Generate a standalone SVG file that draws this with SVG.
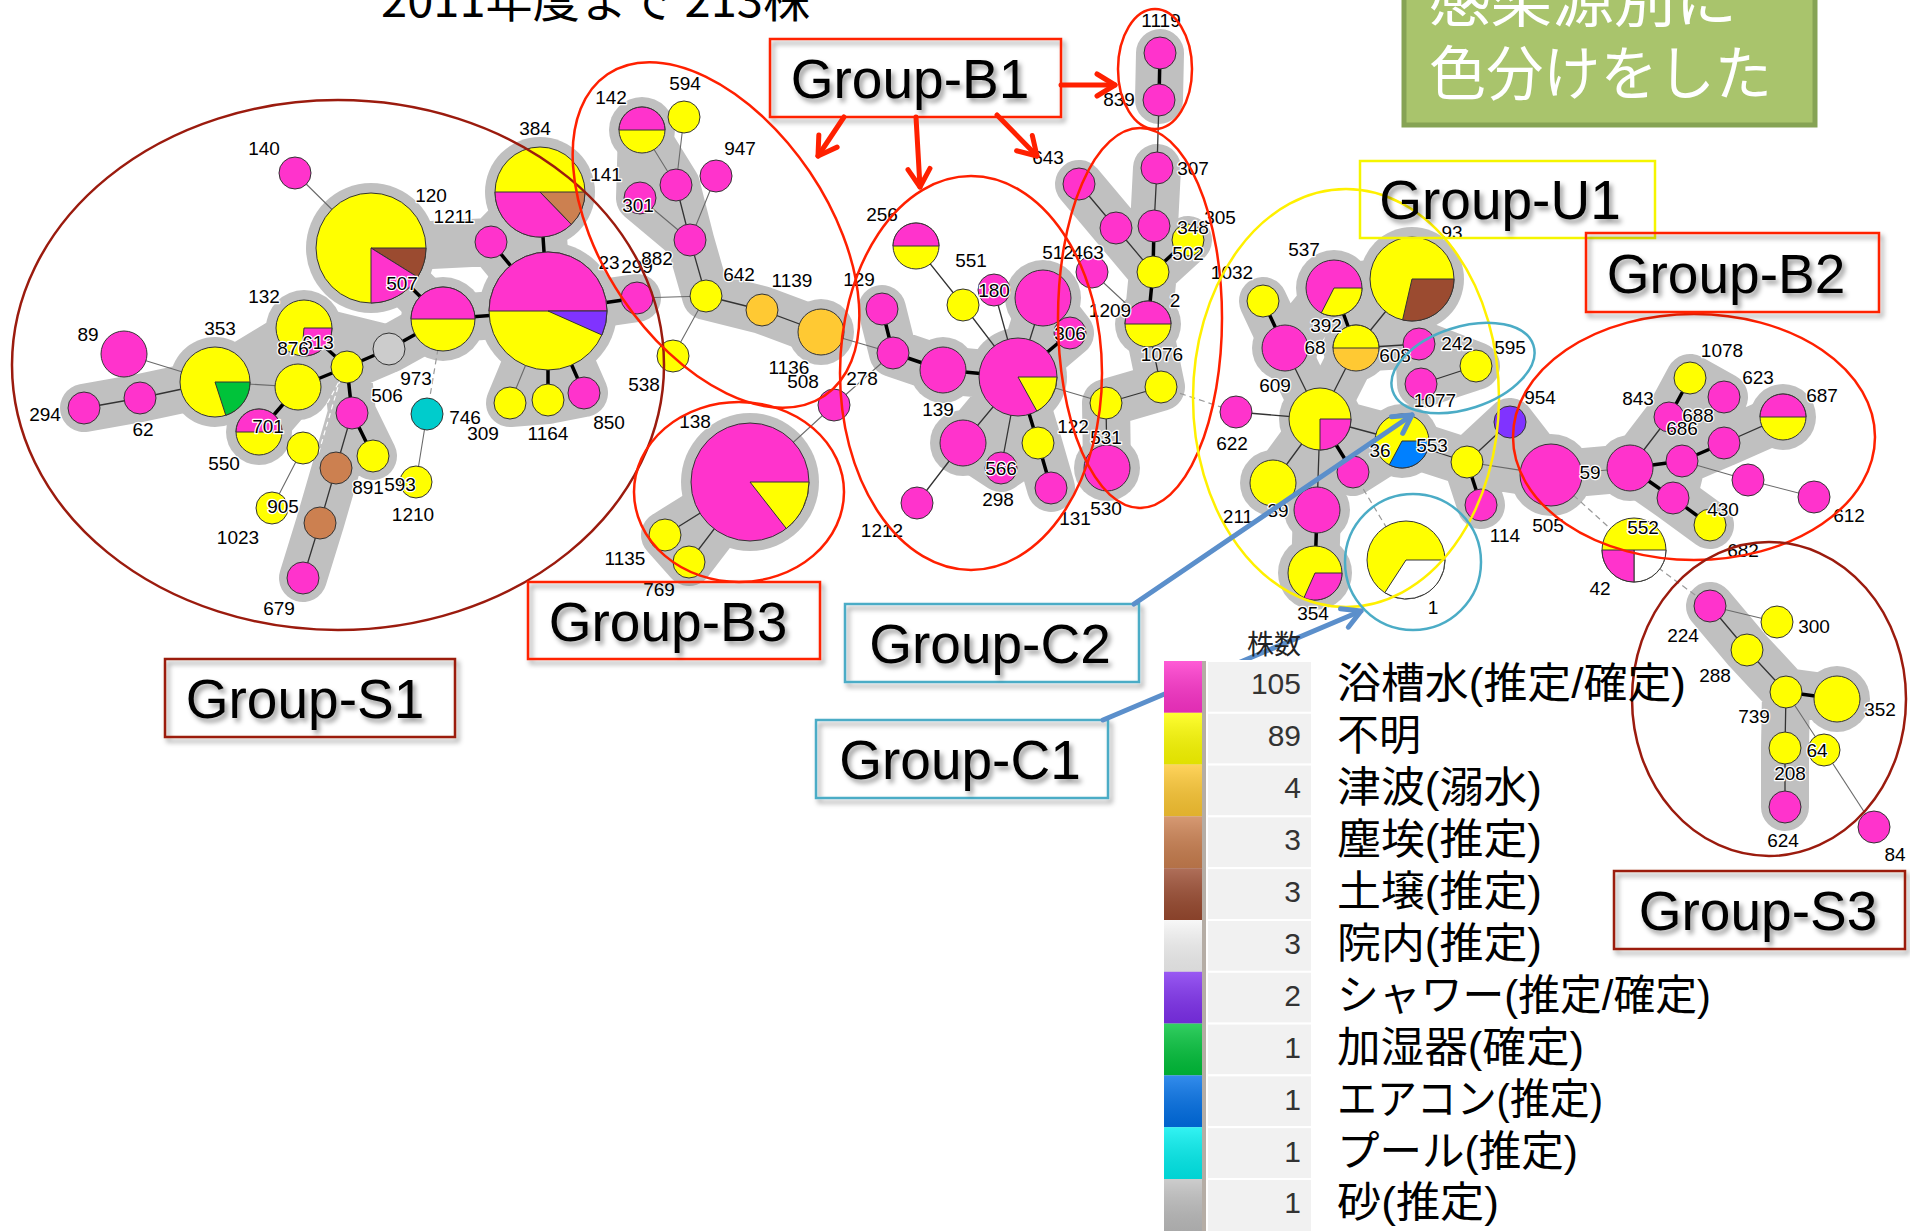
<svg xmlns="http://www.w3.org/2000/svg" width="1910" height="1231" viewBox="0 0 1910 1231">
<style>
.m{fill:#FF33CC}.y{fill:#FFFF00}.o{fill:#FFC933}.t{fill:#CC8050}.b{fill:#9B4B30}.w{fill:#FFFFFF}.p{fill:#8033FF}.gn{fill:#00C33A}.bl{fill:#0080FF}.c{fill:#00CCCC}.gy{fill:#CCCCCC}
#nodes circle,#nodes path{stroke:#333;stroke-width:1}
.et{stroke:#000;stroke-width:3.5}.ed{stroke:#333;stroke-width:1.3}.eg{stroke:#6a6a6a;stroke-width:1.1}.eq{stroke:#9a9a9a;stroke-width:1.2;stroke-dasharray:6 4}
.halo{fill:none;stroke:#C0C0C0;stroke-width:48;stroke-linecap:round;stroke-linejoin:round}
.hc{fill:#C0C0C0}
.lb{font-family:'Liberation Sans',Arial,sans-serif;font-size:19px;fill:#000;text-anchor:middle;stroke:#fff;stroke-width:2.5;paint-order:stroke;stroke-linejoin:round}
.ring{fill:none;stroke-width:2.5}
.box{fill:none;stroke-width:2.5}
.bt{font-family:'Liberation Sans',Arial,sans-serif;font-size:55px;fill:#000;text-anchor:middle}
.num{font-family:'Liberation Sans',Arial,sans-serif;font-size:30px;fill:#333;text-anchor:end}
.lt{font-family:'Liberation Sans','Noto Sans CJK JP',sans-serif;font-size:42px;fill:#000}
.cell{fill:#F1F1F1;stroke:#fff;stroke-width:2}
</style>
<defs>
<filter id="sh" x="-10%" y="-30%" width="130%" height="170%"><feDropShadow dx="3" dy="4" stdDeviation="2.5" flood-color="#000" flood-opacity="0.4"/></filter>
<linearGradient id="lg" x1="0" y1="0" x2="0" y2="1"><stop offset="0" stop-color="#fff" stop-opacity="0.2"/><stop offset="1" stop-color="#000" stop-opacity="0.12"/></linearGradient>
<marker id="ar" viewBox="0 0 28 28" refX="24" refY="14" markerWidth="28" markerHeight="28" markerUnits="userSpaceOnUse" orient="auto"><path d="M6,3 L24,14 L6,25" fill="none" stroke="#FF2000" stroke-width="5" stroke-linecap="round" stroke-linejoin="round"/></marker>
<marker id="ab" viewBox="0 0 28 28" refX="24" refY="14" markerWidth="28" markerHeight="28" markerUnits="userSpaceOnUse" orient="auto"><path d="M6,4 L24,14 L6,24" fill="none" stroke="#5B8FCB" stroke-width="5" stroke-linecap="round" stroke-linejoin="round"/></marker>
</defs>
<rect width="1910" height="1231" fill="#fff"/>

<text x="381" y="17" font-family="'Noto Sans CJK JP',sans-serif" font-size="46" textLength="429" lengthAdjust="spacingAndGlyphs">2011年度まで 213株</text>

<g id="title-box">
<rect x="1404" y="-20" width="411" height="145" fill="#A9C46C" stroke="#86A354" stroke-width="5"/>
<text x="1429" y="22" font-family="'Noto Sans CJK JP',sans-serif" font-size="59" fill="#fff" textLength="308" lengthAdjust="spacingAndGlyphs">感染源別に</text>
<text x="1429" y="95" font-family="'Noto Sans CJK JP',sans-serif" font-size="59" fill="#fff" textLength="343" lengthAdjust="spacingAndGlyphs">色分けをした</text>
</g>

<g id="halos">
<path class="halo" d="M84,408L140,398 M140,398L215,382 M215,382L298,387 M298,387L347,367 M347,367L389,349 M389,349L443,319 M443,319L548,311 M548,311L540,192 M548,311L491,242 M443,319L371,248 M371,248L491,242 M491,242L540,192 M304,328L347,367 M215,382L304,328 M304,328L389,349 M298,387L259,432 M347,367L352,413 M352,413L373,456 M352,413L336,468 M336,468L320,523 M320,523L303,578 M548,311L510,403 M548,311L548,400 M548,311L584,393 M548,311L637,298 M510,403L548,400 M548,400L584,393
M642,130L676,185 M676,185L690,240 M690,240L706,296 M706,296L762,310 M762,310L821,332 M640,198L690,240 M642,130L640,198
M750,482L665,535 M750,482L689,562 M665,535L689,562
M882,309L893,353 M893,353L943,370 M943,370L1018,377 M1018,377L1043,298 M1018,377L1070,333 M1043,298L1070,333 M1018,377L963,443 M1018,377L1001,468 M1018,377L1038,443 M1038,443L1051,488 M963,443L1001,468 M1001,468L1038,443
M1079,184L1116,228 M1116,228L1153,272 M1157,168L1154,226 M1154,226L1153,272 M1153,272L1188,240 M1153,272L1148,324 M1148,324L1161,387 M1161,387L1106,403 M1106,403L1107,468
M1160,53L1159,100
M1263,301L1285,348 M1285,348L1320,419 M1334,288L1356,348 M1356,348L1412,279 M1356,348L1320,419 M1320,419L1402,441 M1320,419L1273,483 M1320,419L1317,510 M1317,510L1315,573 M1320,419L1353,472 M1402,441L1467,462 M1467,462L1510,422 M1467,462L1481,505 M1402,441L1353,472 M1419,344L1421,384 M1421,384L1476,366 M1419,344L1476,366 M1285,348L1334,288 M1273,483L1317,510 M1412,279L1334,288 M1356,348L1419,344
M1467,462L1551,475 M1510,422L1551,475 M1551,475L1630,468 M1630,468L1669,417 M1669,417L1690,378 M1669,417L1724,397 M1690,378L1724,397 M1630,468L1682,461 M1682,461L1724,443 M1724,443L1783,417 M1630,468L1673,498 M1673,498L1710,525 M1682,461L1673,498
M1710,606L1747,650 M1747,650L1786,692 M1786,692L1837,699 M1786,692L1785,748 M1785,748L1785,807"/>
<circle class="hc" cx="371" cy="248" r="65"/><circle class="hc" cx="540" cy="192" r="55"/><circle class="hc" cx="548" cy="311" r="69"/><circle class="hc" cx="443" cy="319" r="42"/><circle class="hc" cx="304" cy="328" r="38"/><circle class="hc" cx="215" cy="382" r="45"/><circle class="hc" cx="259" cy="432" r="33"/><circle class="hc" cx="298" cy="387" r="33"/>
<circle class="hc" cx="642" cy="130" r="33"/><circle class="hc" cx="821" cy="332" r="33"/>
<circle class="hc" cx="750" cy="482" r="69"/>
<circle class="hc" cx="1018" cy="377" r="49"/><circle class="hc" cx="1043" cy="298" r="38"/><circle class="hc" cx="943" cy="370" r="33"/><circle class="hc" cx="963" cy="443" r="33"/>
<circle class="hc" cx="1148" cy="324" r="33"/><circle class="hc" cx="1107" cy="468" r="33"/>
<circle class="hc" cx="1412" cy="279" r="52"/><circle class="hc" cx="1334" cy="288" r="38"/><circle class="hc" cx="1320" cy="419" r="41"/><circle class="hc" cx="1285" cy="348" r="33"/><circle class="hc" cx="1356" cy="348" r="33"/><circle class="hc" cx="1402" cy="441" r="37"/><circle class="hc" cx="1273" cy="483" r="33"/><circle class="hc" cx="1317" cy="510" r="33"/><circle class="hc" cx="1315" cy="573" r="37"/>
<circle class="hc" cx="1551" cy="475" r="41"/><circle class="hc" cx="1630" cy="468" r="33"/><circle class="hc" cx="1783" cy="417" r="33"/>
<circle class="hc" cx="1837" cy="699" r="33"/>
</g>

<g id="connectors" fill="none">
<path class="et" d="M371,248L443,319 M491,242L548,311 M540,192L548,311 M443,319L548,311 M548,311L637,298 M548,311L548,400 M548,311L584,393 M443,319L389,349 M389,349L347,367 M304,328L347,367 M347,367L298,387 M298,387L259,432 M347,367L352,413 M352,413L373,456 M882,309L893,353 M893,353L943,370 M943,370L1018,377 M1018,377L1070,333 M1018,377L1038,443 M1038,443L1051,488 M1148,324L1153,272 M1153,272L1154,226 M1153,272L1188,240 M1159,100L1160,53 M1285,348L1263,301 M1356,348L1334,288 M1320,419L1353,472 M1317,510L1315,573 M1467,462L1481,505 M1630,468L1682,461 M1630,468L1673,498 M1673,498L1710,525 M1682,461L1724,443 M1669,417L1690,378 M1786,692L1837,699"/>
<path class="ed" d="M215,382L140,398 M140,398L84,408 M352,413L336,468 M336,468L320,523 M320,523L303,578 M706,296L690,240 M690,240L676,185 M750,482L665,535 M750,482L689,562 M1018,377L963,305 M963,305L916,246 M1018,377L994,290 M1018,377L1043,298 M1018,377L963,443 M963,443L917,503 M1018,377L1001,468 M1106,403L1161,387 M1106,403L1107,468 M1161,387L1148,324 M1154,226L1157,168 M1157,168L1159,100 M1153,272L1116,228 M1116,228L1079,184 M1236,412L1320,419 M1320,419L1285,348 M1320,419L1356,348 M1356,348L1412,279 M1356,348L1419,344 M1421,384L1476,366 M1320,419L1402,441 M1320,419L1273,483 M1320,419L1317,510 M1402,441L1467,462 M1467,462L1510,422 M1630,468L1669,417 M1724,443L1783,417 M1710,606L1747,650 M1747,650L1786,692 M1786,692L1785,748 M1785,748L1785,807"/>
<path class="ed" stroke-width="2.2" d="M706,296L762,310 M762,310L821,332"/>
<path class="eg" d="M295,173L371,248 M548,311L510,403 M298,387L215,382 M215,382L124,354 M303,448L272,508 M427,414L416,482 M637,298L706,296 M673,356L706,296 M690,240L716,176 M676,185L684,117 M676,185L642,130 M690,240L640,198 M821,332L893,353 M834,405L750,482 M834,405L893,353 M1018,377L1106,403 M1148,324L1092,272 M1467,462L1551,475 M1551,475L1630,468 M1682,461L1748,480 M1748,480L1814,497 M1710,606L1777,622 M1786,692L1824,750"/>
<path class="eg" stroke="#aaa" d="M1824,750L1874,827"/>
<path class="eq" d="M443,319L427,414 M1161,387L1236,412 M1353,472L1406,560 M1551,475L1634,550 M1634,550L1710,606"/>
<path stroke="#fff" stroke-width="1.2" stroke-dasharray="5 4" d="M347,367L303,448 M343,370L318,455"/>
</g>

<g id="nodes">
<g id="n-140" transform="translate(295,173)"><circle r="16" class="m"/></g>
<g id="n-120" transform="translate(371,248)"><circle r="55" class="y"/><path class="b" d="M0,0L55,0A55,55 0 0 1 46.6,29.1Z"/><path class="m" d="M0,0L46.6,29.1A55,55 0 0 1 0,55Z"/></g>
<g id="n-1211" transform="translate(491,242)"><circle r="16" class="m"/></g>
<g id="n-384" transform="translate(540,192)"><circle r="45" class="y"/><path class="t" d="M0,0L45,0A45,45 0 0 1 31.3,32.4Z"/><path class="m" d="M0,0L31.3,32.4A45,45 0 0 1 -45,0Z"/></g>
<g id="n-23" transform="translate(548,311)"><circle r="59" class="y"/><path class="m" d="M-59,0A59,59 0 0 1 59,0Z"/><path class="p" d="M0,0L59,0A59,59 0 0 1 53.9,24Z"/></g>
<g id="n-507" transform="translate(443,319)"><circle r="32" class="y"/><path class="m" d="M-32,0A32,32 0 0 1 32,0Z"/></g>
<g id="n-132" transform="translate(304,328)"><circle r="28" class="y"/><path class="m" d="M0,0L28,0A28,28 0 0 1 -2.4,27.9Z"/></g>
<g id="n-353" transform="translate(215,382)"><circle r="35" class="y"/><path class="gn" d="M0,0L35,0A35,35 0 0 1 10.8,33.3Z"/></g>
<g id="n-89" transform="translate(124,354)"><circle r="23" class="m"/></g>
<g id="n-62" transform="translate(140,398)"><circle r="16" class="m"/></g>
<g id="n-294" transform="translate(84,408)"><circle r="16" class="m"/></g>
<g id="n-876" transform="translate(298,387)"><circle r="23" class="y"/></g>
<g id="n-613" transform="translate(347,367)"><circle r="16" class="y"/></g>
<g id="n-973" transform="translate(389,349)"><circle r="16" class="gy"/></g>
<g id="n-701" transform="translate(259,432)"><circle r="23" class="y"/><path class="m" d="M-23,0A23,23 0 0 1 23,0Z"/></g>
<g id="n-506" transform="translate(352,413)"><circle r="16" class="m"/></g>
<g id="n-891" transform="translate(373,456)"><circle r="16" class="y"/></g>
<g id="n-t1" transform="translate(336,468)"><circle r="16" class="t"/></g>
<g id="n-t2" transform="translate(320,523)"><circle r="16" class="t"/></g>
<g id="n-679" transform="translate(303,578)"><circle r="16" class="m"/></g>
<g id="n-550" transform="translate(303,448)"><circle r="16" class="y"/></g>
<g id="n-905" transform="translate(272,508)"><circle r="16" class="y"/></g>
<g id="n-746" transform="translate(427,414)"><circle r="16" class="c"/></g>
<g id="n-1210" transform="translate(416,482)"><circle r="16" class="y"/></g>
<g id="n-309" transform="translate(510,403)"><circle r="16" class="y"/></g>
<g id="n-1164" transform="translate(548,400)"><circle r="16" class="y"/></g>
<g id="n-850" transform="translate(584,393)"><circle r="16" class="m"/></g>
<g id="n-299" transform="translate(637,298)"><circle r="16" class="m"/></g>
<g id="n-142" transform="translate(642,130)"><circle r="23" class="y"/><path class="m" d="M-23,0A23,23 0 0 1 23,0Z"/></g>
<g id="n-594" transform="translate(684,117)"><circle r="16" class="y"/></g>
<g id="n-947" transform="translate(716,176)"><circle r="16" class="m"/></g>
<g id="n-141" transform="translate(676,185)"><circle r="16" class="m"/></g>
<g id="n-301" transform="translate(640,198)"><circle r="16" class="m"/></g>
<g id="n-882" transform="translate(690,240)"><circle r="16" class="m"/></g>
<g id="n-642" transform="translate(706,296)"><circle r="16" class="y"/></g>
<g id="n-1139" transform="translate(762,310)"><circle r="16" class="o"/></g>
<g id="n-1136" transform="translate(821,332)"><circle r="23" class="o"/></g>
<g id="n-538" transform="translate(673,356)"><circle r="16" class="y"/></g>
<g id="n-138" transform="translate(750,482)"><circle r="59" class="m"/><path class="y" d="M0,0L59,0A59,59 0 0 1 36.3,46.5Z"/></g>
<g id="n-1135" transform="translate(665,535)"><circle r="16" class="y"/></g>
<g id="n-769" transform="translate(689,562)"><circle r="16" class="y"/></g>
<g id="n-278" transform="translate(834,405)"><circle r="16" class="m"/></g>
<g id="n-129" transform="translate(882,309)"><circle r="16" class="m"/></g>
<g id="n-508" transform="translate(893,353)"><circle r="16" class="m"/></g>
<g id="n-b1a" transform="translate(943,370)"><circle r="23" class="m"/></g>
<g id="n-139" transform="translate(1018,377)"><circle r="39" class="m"/><path class="y" d="M0,0L39,0A39,39 0 0 1 18.9,34.1Z"/></g>
<g id="n-256" transform="translate(916,246)"><circle r="23" class="y"/><path class="m" d="M-23,0A23,23 0 0 1 23,0Z"/></g>
<g id="n-551" transform="translate(963,305)"><circle r="16" class="y"/></g>
<g id="n-180" transform="translate(994,290)"><circle r="16" class="m"/></g>
<g id="n-512" transform="translate(1043,298)"><circle r="28" class="m"/></g>
<g id="n-306" transform="translate(1070,333)"><circle r="16" class="m"/></g>
<g id="n-463" transform="translate(1092,272)"><circle r="16" class="m"/></g>
<g id="n-b1b" transform="translate(963,443)"><circle r="23" class="m"/></g>
<g id="n-566" transform="translate(1001,468)"><circle r="16" class="m"/></g>
<g id="n-b1c" transform="translate(1038,443)"><circle r="16" class="y"/></g>
<g id="n-131" transform="translate(1051,488)"><circle r="16" class="m"/></g>
<g id="n-1212" transform="translate(917,503)"><circle r="16" class="m"/></g>
<g id="n-643" transform="translate(1079,184)"><circle r="16" class="m"/></g>
<g id="n-b1d" transform="translate(1116,228)"><circle r="16" class="m"/></g>
<g id="n-307" transform="translate(1157,168)"><circle r="16" class="m"/></g>
<g id="n-305" transform="translate(1154,226)"><circle r="16" class="m"/></g>
<g id="n-348" transform="translate(1188,240)"><circle r="16" class="y"/></g>
<g id="n-502" transform="translate(1153,272)"><circle r="16" class="y"/></g>
<g id="n-2" transform="translate(1148,324)"><circle r="23" class="y"/><path class="m" d="M-23,0A23,23 0 0 1 23,0Z"/></g>
<g id="n-1076" transform="translate(1161,387)"><circle r="16" class="y"/></g>
<g id="n-531" transform="translate(1106,403)"><circle r="16" class="y"/></g>
<g id="n-530" transform="translate(1107,468)"><circle r="23" class="m"/></g>
<g id="n-1119" transform="translate(1160,53)"><circle r="16" class="m"/></g>
<g id="n-839" transform="translate(1159,100)"><circle r="16" class="m"/></g>
<g id="n-1032" transform="translate(1263,301)"><circle r="16" class="y"/></g>
<g id="n-537" transform="translate(1334,288)"><circle r="28" class="m"/><path class="y" d="M0,0L28,0A28,28 0 0 1 -12.7,24.9Z"/></g>
<g id="n-93" transform="translate(1412,279)"><circle r="42" class="y"/><path class="b" d="M0,0L42,0A42,42 0 0 1 -9.4,40.9Z"/></g>
<g id="n-68" transform="translate(1285,348)"><circle r="23" class="m"/></g>
<g id="n-608" transform="translate(1356,348)"><circle r="23" class="o"/><path class="y" d="M-23,0A23,23 0 0 1 23,0Z"/></g>
<g id="n-242" transform="translate(1419,344)"><circle r="16" class="m"/></g>
<g id="n-595" transform="translate(1476,366)"><circle r="16" class="y"/></g>
<g id="n-1077" transform="translate(1421,384)"><circle r="16" class="m"/></g>
<g id="n-609" transform="translate(1320,419)"><circle r="31" class="y"/><path class="m" d="M0,0L31,0A31,31 0 0 1 0,31Z"/></g>
<g id="n-622" transform="translate(1236,412)"><circle r="16" class="m"/></g>
<g id="n-553" transform="translate(1402,441)"><circle r="27" class="y"/><path class="bl" d="M0,0L27,0A27,27 0 0 1 -12.7,23.8Z"/></g>
<g id="n-u1a" transform="translate(1353,472)"><circle r="16" class="m"/></g>
<g id="n-211" transform="translate(1273,483)"><circle r="23" class="y"/></g>
<g id="n-39" transform="translate(1317,510)"><circle r="23" class="m"/></g>
<g id="n-354" transform="translate(1315,573)"><circle r="27" class="y"/><path class="m" d="M0,0L27,0A27,27 0 0 1 -11,24.7Z"/></g>
<g id="n-1" transform="translate(1406,560)"><circle r="39" class="y"/><path class="w" d="M0,0L39,0A39,39 0 0 1 -21.2,32.7Z"/></g>
<g id="n-954" transform="translate(1510,422)"><circle r="16" class="p"/></g>
<g id="n-u1b" transform="translate(1467,462)"><circle r="16" class="y"/></g>
<g id="n-114" transform="translate(1481,505)"><circle r="16" class="m"/></g>
<g id="n-505" transform="translate(1551,475)"><circle r="31" class="m"/></g>
<g id="n-59" transform="translate(1630,468)"><circle r="23" class="m"/></g>
<g id="n-843" transform="translate(1669,417)"><circle r="15" class="m"/></g>
<g id="n-1078" transform="translate(1690,378)"><circle r="16" class="y"/></g>
<g id="n-623" transform="translate(1724,397)"><circle r="16" class="m"/></g>
<g id="n-687" transform="translate(1783,417)"><circle r="23" class="y"/><path class="m" d="M-23,0A23,23 0 0 1 23,0Z"/></g>
<g id="n-b2a" transform="translate(1724,443)"><circle r="16" class="m"/></g>
<g id="n-686" transform="translate(1682,461)"><circle r="16" class="m"/></g>
<g id="n-b2b" transform="translate(1748,480)"><circle r="16" class="m"/></g>
<g id="n-612" transform="translate(1814,497)"><circle r="16" class="m"/></g>
<g id="n-b2c" transform="translate(1673,498)"><circle r="16" class="m"/></g>
<g id="n-430" transform="translate(1710,525)"><circle r="16" class="y"/></g>
<g id="n-552" transform="translate(1634,550)"><circle r="32" class="y"/><path class="w" d="M0,0L32,0A32,32 0 0 1 0,32Z"/><path class="m" d="M0,0L0,32A32,32 0 0 1 -32,0Z"/></g>
<g id="n-224" transform="translate(1710,606)"><circle r="16" class="m"/></g>
<g id="n-300" transform="translate(1777,622)"><circle r="16" class="y"/></g>
<g id="n-288" transform="translate(1747,650)"><circle r="16" class="y"/></g>
<g id="n-739" transform="translate(1786,692)"><circle r="16" class="y"/></g>
<g id="n-352" transform="translate(1837,699)"><circle r="23" class="y"/></g>
<g id="n-64" transform="translate(1824,750)"><circle r="16" class="y"/></g>
<g id="n-208" transform="translate(1785,748)"><circle r="16" class="y"/></g>
<g id="n-624" transform="translate(1785,807)"><circle r="16" class="m"/></g>
<g id="n-84" transform="translate(1874,827)"><circle r="16" class="m"/></g>
</g>

<g id="labels" class="lb">
<text x="264" y="155">140</text><text x="431" y="202">120</text><text x="454" y="223">1211</text><text x="535" y="135">384</text><text x="606" y="181">141</text><text x="611" y="104">142</text><text x="685" y="90">594</text><text x="740" y="155">947</text>
<text x="609" y="269">23</text><text x="637" y="273">299</text><text x="402" y="290">507</text><text x="264" y="303">132</text><text x="220" y="335">353</text><text x="88" y="341">89</text><text x="318" y="349">613</text><text x="293" y="355">876</text>
<text x="45" y="421">294</text><text x="143" y="436">62</text><text x="268" y="433">701</text><text x="224" y="470">550</text><text x="416" y="385">973</text><text x="387" y="402">506</text><text x="465" y="424">746</text><text x="483" y="440">309</text><text x="548" y="440">1164</text><text x="609" y="429">850</text>
<text x="368" y="494">891</text><text x="400" y="491">593</text><text x="283" y="513">905</text><text x="238" y="544">1023</text><text x="413" y="521">1210</text><text x="279" y="615">679</text>
<text x="638" y="212">301</text><text x="657" y="265">882</text><text x="739" y="281">642</text><text x="792" y="287">1139</text><text x="789" y="374">1136</text><text x="803" y="388">508</text><text x="644" y="391">538</text><text x="859" y="286">129</text><text x="862" y="385">278</text>
<text x="695" y="428">138</text><text x="625" y="565">1135</text><text x="659" y="596">769</text>
<text x="882" y="221">256</text><text x="971" y="267">551</text><text x="994" y="297">180</text><text x="1058" y="259">512</text><text x="1088" y="259">463</text><text x="1070" y="340">306</text><text x="938" y="416">139</text><text x="1001" y="475">566</text><text x="998" y="506">298</text><text x="1075" y="525">131</text><text x="882" y="537">1212</text>
<text x="1073" y="433">122</text><text x="1106" y="444">531</text><text x="1106" y="515">530</text><text x="1110" y="317">1209</text><text x="1175" y="307">2</text><text x="1162" y="361">1076</text><text x="1193" y="234">348</text><text x="1220" y="224">305</text><text x="1188" y="260">502</text><text x="1193" y="175">307</text><text x="1048" y="164">643</text><text x="1161" y="27">1119</text><text x="1119" y="106">839</text>
<text x="1232" y="279">1032</text><text x="1304" y="256">537</text><text x="1452" y="239">93</text><text x="1326" y="332">392</text><text x="1315" y="354">68</text><text x="1395" y="362">608</text><text x="1457" y="350">242</text><text x="1510" y="354">595</text><text x="1435" y="407">1077</text><text x="1275" y="392">609</text><text x="1232" y="450">622</text><text x="1380" y="457">36</text><text x="1432" y="452">553</text><text x="1540" y="404">954</text><text x="1238" y="523">211</text><text x="1278" y="517">39</text><text x="1505" y="542">114</text><text x="1313" y="620">354</text><text x="1433" y="614">1</text>
<text x="1548" y="532">505</text><text x="1590" y="479">59</text><text x="1638" y="405">843</text><text x="1722" y="357">1078</text><text x="1758" y="384">623</text><text x="1698" y="422">688</text><text x="1682" y="435">686</text><text x="1822" y="402">687</text><text x="1849" y="522">612</text><text x="1723" y="516">430</text><text x="1643" y="534">552</text><text x="1600" y="595">42</text><text x="1743" y="557">682</text>
<text x="1683" y="642">224</text><text x="1814" y="633">300</text><text x="1715" y="682">288</text><text x="1754" y="723">739</text><text x="1880" y="716">352</text><text x="1817" y="757">64</text><text x="1790" y="780">208</text><text x="1783" y="847">624</text><text x="1895" y="861">84</text>
</g>

<g id="group-rings">
<ellipse id="ring-S1" class="ring" stroke="#9B1B0E" cx="338" cy="365" rx="326" ry="265"/>
<ellipse id="ring-B1a" class="ring" stroke="#FF2000" cx="716" cy="235" rx="194" ry="113" transform="rotate(56 716 235)"/>
<ellipse id="ring-B1b" class="ring" stroke="#FF2000" cx="971" cy="373" rx="131" ry="197"/>
<ellipse id="ring-B1c" class="ring" stroke="#FF2000" cx="1140" cy="318" rx="82" ry="190"/>
<ellipse id="ring-B1d" class="ring" stroke="#FF2000" cx="1155" cy="69" rx="37" ry="60"/>
<ellipse id="ring-B3" class="ring" stroke="#FF2000" cx="739" cy="492" rx="105" ry="90"/>
<ellipse id="ring-U1" class="ring" stroke="#FFF000" cx="1346" cy="398" rx="153" ry="209"/>
<ellipse id="ring-C2" class="ring" stroke="#4BACC6" cx="1463" cy="368" rx="74" ry="41" transform="rotate(-18 1463 368)"/>
<circle id="ring-C1" class="ring" stroke="#4BACC6" cx="1413" cy="562" r="68"/>
<ellipse id="ring-B2" class="ring" stroke="#FF2000" cx="1694" cy="437" rx="181" ry="123"/>
<ellipse id="ring-S3" class="ring" stroke="#9B1B0E" cx="1769" cy="699" rx="137" ry="157"/>
</g>

<g id="group-labels">
<g id="lbl-B1"><rect class="box" stroke="#FF2000" x="770" y="39" width="291" height="78" filter="url(#sh)"/><text class="bt" x="910" y="98" filter="url(#sh)">Group-B1</text></g>
<g id="lbl-U1"><rect class="box" stroke="#F5F500" x="1360" y="161" width="295" height="77"/><text class="bt" x="1500" y="219" filter="url(#sh)">Group-U1</text></g>
<g id="lbl-B2"><rect class="box" stroke="#FF2000" x="1586" y="233" width="293" height="79" filter="url(#sh)"/><text class="bt" x="1726" y="293" filter="url(#sh)">Group-B2</text></g>
<g id="lbl-B3"><rect class="box" stroke="#FF2000" x="528" y="582" width="292" height="77" filter="url(#sh)"/><text class="bt" x="668" y="641" filter="url(#sh)">Group-B3</text></g>
<g id="lbl-S1"><rect class="box" stroke="#9B1B0E" x="165" y="659" width="290" height="78" filter="url(#sh)"/><text class="bt" x="305" y="718" filter="url(#sh)">Group-S1</text></g>
<g id="lbl-C2"><rect class="box" stroke="#4BACC6" x="845" y="604" width="294" height="78" filter="url(#sh)"/><text class="bt" x="990" y="663" filter="url(#sh)">Group-C2</text></g>
<g id="lbl-C1"><rect class="box" stroke="#4BACC6" x="816" y="720" width="292" height="78" filter="url(#sh)"/><text class="bt" x="960" y="779" filter="url(#sh)">Group-C1</text></g>
<g id="lbl-S3"><rect class="box" stroke="#9B1B0E" x="1614" y="871" width="291" height="78" filter="url(#sh)"/><text class="bt" x="1758" y="930" filter="url(#sh)">Group-S3</text></g>
</g>

<g id="arrows" fill="none" stroke-linecap="round">
<path stroke="#FF2000" stroke-width="5" marker-end="url(#ar)" d="M844,117L818,156"/>
<path stroke="#FF2000" stroke-width="5" marker-end="url(#ar)" d="M916,117L920,187"/>
<path stroke="#FF2000" stroke-width="5" marker-end="url(#ar)" d="M997,115L1037,156"/>
<path stroke="#FF2000" stroke-width="5" marker-end="url(#ar)" d="M1061,85L1115,85"/>
<path stroke="#5B8FCB" stroke-width="5" marker-end="url(#ab)" d="M1134,604L1412,415"/>
<path stroke="#5B8FCB" stroke-width="5" marker-end="url(#ab)" d="M1103,720L1361,611"/>
</g>

<g id="legend">
<text x="1274" y="654" font-family="'Noto Sans CJK JP',sans-serif" font-size="27" text-anchor="middle" fill="#222">株数</text>
<rect x="1164" y="661" width="38" height="51.8" class="m"/><rect x="1164" y="712.8" width="38" height="51.8" class="y"/><rect x="1164" y="764.6" width="38" height="51.8" class="o"/><rect x="1164" y="816.4" width="38" height="51.8" class="t"/><rect x="1164" y="868.2" width="38" height="51.8" class="b"/><rect x="1164" y="920" width="38" height="51.8" fill="#F6F6F6"/><rect x="1164" y="971.8" width="38" height="51.8" fill="#8030F0"/><rect x="1164" y="1023.6" width="38" height="51.8" class="gn"/><rect x="1164" y="1075.4" width="38" height="51.8" fill="#0070E8"/><rect x="1164" y="1127.2" width="38" height="51.8" fill="#00F0F0"/><rect x="1164" y="1179" width="38" height="52" fill="#C0C0C0"/>
<g fill="url(#lg)"><rect x="1164" y="661" width="38" height="51.8"/><rect x="1164" y="712.8" width="38" height="51.8"/><rect x="1164" y="764.6" width="38" height="51.8"/><rect x="1164" y="816.4" width="38" height="51.8"/><rect x="1164" y="868.2" width="38" height="51.8"/><rect x="1164" y="920" width="38" height="51.8"/><rect x="1164" y="971.8" width="38" height="51.8"/><rect x="1164" y="1023.6" width="38" height="51.8"/><rect x="1164" y="1075.4" width="38" height="51.8"/><rect x="1164" y="1127.2" width="38" height="51.8"/><rect x="1164" y="1179" width="38" height="52"/></g>
<rect x="1202" y="661" width="5" height="570" fill="#B5ADA5"/>
<rect class="cell" x="1207" y="661" width="105" height="51.8"/><rect class="cell" x="1207" y="712.8" width="105" height="51.8"/><rect class="cell" x="1207" y="764.6" width="105" height="51.8"/><rect class="cell" x="1207" y="816.4" width="105" height="51.8"/><rect class="cell" x="1207" y="868.2" width="105" height="51.8"/><rect class="cell" x="1207" y="920" width="105" height="51.8"/><rect class="cell" x="1207" y="971.8" width="105" height="51.8"/><rect class="cell" x="1207" y="1023.6" width="105" height="51.8"/><rect class="cell" x="1207" y="1075.4" width="105" height="51.8"/><rect class="cell" x="1207" y="1127.2" width="105" height="51.8"/><rect class="cell" x="1207" y="1179" width="105" height="54"/>
<g class="num"><text x="1301" y="694">105</text><text x="1301" y="746">89</text><text x="1301" y="798">4</text><text x="1301" y="850">3</text><text x="1301" y="902">3</text><text x="1301" y="954">3</text><text x="1301" y="1006">2</text><text x="1301" y="1058">1</text><text x="1301" y="1110">1</text><text x="1301" y="1162">1</text><text x="1301" y="1213">1</text></g>
<g class="lt">
<text x="1337" y="698" textLength="349" lengthAdjust="spacingAndGlyphs">浴槽水(推定/確定)</text>
<text x="1337" y="750">不明</text>
<text x="1337" y="802" textLength="205" lengthAdjust="spacingAndGlyphs">津波(溺水)</text>
<text x="1337" y="854" textLength="205" lengthAdjust="spacingAndGlyphs">塵埃(推定)</text>
<text x="1337" y="906" textLength="205" lengthAdjust="spacingAndGlyphs">土壌(推定)</text>
<text x="1337" y="958" textLength="205" lengthAdjust="spacingAndGlyphs">院内(推定)</text>
<text x="1337" y="1010" textLength="374" lengthAdjust="spacingAndGlyphs">シャワー(推定/確定)</text>
<text x="1337" y="1062" textLength="247" lengthAdjust="spacingAndGlyphs">加湿器(確定)</text>
<text x="1337" y="1114" textLength="266" lengthAdjust="spacingAndGlyphs">エアコン(推定)</text>
<text x="1337" y="1166" textLength="241" lengthAdjust="spacingAndGlyphs">プール(推定)</text>
<text x="1337" y="1217" textLength="162" lengthAdjust="spacingAndGlyphs">砂(推定)</text>
</g>
</g>
</svg>
